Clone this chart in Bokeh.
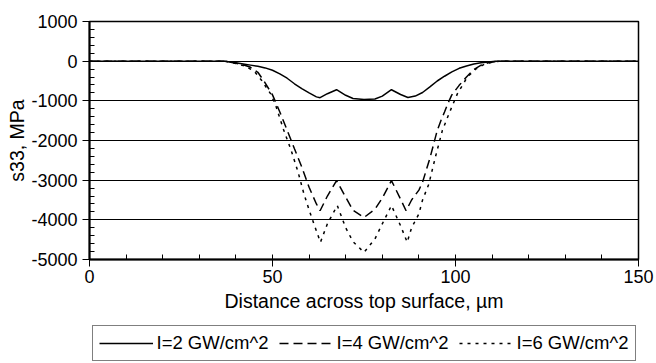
from bokeh.plotting import figure
from bokeh.layouts import column
from bokeh.models import Range1d, FixedTicker, Legend, LegendItem
from bokeh.embed import file_html
from bokeh.resources import INLINE

# I = 2 GW/cm^2
x_i2 = [0, 35, 37, 40, 42, 44, 46, 48, 50, 52, 54, 56, 58, 60, 62, 63, 65, 67.5, 70, 72, 75,
        78, 80, 82.5, 85, 87, 89, 91, 93, 95, 97, 99, 101, 103, 105, 107, 109, 111, 113, 150]
y_i2 = [0, 0, 0, -40, -70, -100, -130, -170, -230, -320, -430, -570, -690, -800, -900, -920,
        -820, -720, -860, -940, -965, -955, -880, -720, -840, -915, -880, -790, -650, -500,
        -380, -270, -180, -120, -70, -40, -20, -5, 0, 0]

# I = 4 GW/cm^2
x_i4 = [0, 37, 38, 40, 42, 44, 46, 47.6, 50, 52, 54, 56, 58, 60, 62, 63, 65, 67.5, 70, 72, 75,
        78, 80, 82.5, 85, 86.5, 88, 90, 91, 92, 93, 94, 95, 96, 97, 98, 99, 101, 103, 105,
        107, 109, 111, 112, 150]
y_i4 = [0, 0, -20, -50, -90, -155, -280, -490, -850, -1280, -1740, -2210, -2670, -3180, -3600,
        -3770, -3400, -3010, -3430, -3760, -3940, -3730, -3450, -3010, -3480, -3770, -3500,
        -3250, -3050, -2750, -2450, -2100, -1750, -1500, -1280, -1050, -850, -610, -400, -210,
        -100, -40, -8, 0, 0]

# I = 6 GW/cm^2
x_i6 = [0, 37, 38, 40, 42, 44.9, 47, 49.5, 51, 53, 55, 57, 58.6, 60, 61.3, 63.1, 65, 67.7, 70,
        72, 75, 78, 80, 82.5, 85, 86.8, 88, 90, 91, 92.7, 94.5, 96.4, 98.2, 100.5, 103.2, 105.5,
        108, 110.5, 112, 150]
y_i6 = [0, 0, -20, -60, -110, -240, -480, -825, -1150, -1720, -2220, -2800, -3350, -3750, -4100,
        -4565, -4100, -3640, -4200, -4550, -4820, -4480, -4100, -3640, -4150, -4565, -4200,
        -3850, -3500, -3100, -2420, -1750, -1330, -825, -405, -200, -70, -15, 0, 0]

x_ticks = [0, 50, 100, 150]
y_ticks = [-5000, -4000, -3000, -2000, -1000, 0, 1000]
labels = ["I=2 GW/cm^2", "I=4 GW/cm^2", "I=6 GW/cm^2"]

FONT = "Liberation Sans"
DASH_I4 = "9 5"
DASH_I6 = "3 5"

p = figure(width=656, height=323, output_backend="svg", toolbar_location=None,
           x_range=Range1d(0, 150), y_range=Range1d(-5000, 1000))
p.min_border_left = 89
p.min_border_right = 18
p.min_border_top = 21
p.min_border_bottom = 64
p.background_fill_color = "white"
p.border_fill_color = "white"
p.outline_line_color = "black"
p.outline_line_width = 1.5

p.xgrid.visible = False
p.ygrid.grid_line_color = "black"
p.ygrid.grid_line_width = 1
p.ygrid.ticker = FixedTicker(ticks=y_ticks)

p.xaxis.ticker = FixedTicker(ticks=x_ticks, minor_ticks=list(range(0, 151, 10)))
p.yaxis.ticker = FixedTicker(ticks=y_ticks, minor_ticks=list(range(-5000, 1001, 200)))
p.yaxis.major_label_overrides = {t: str(t) for t in y_ticks}
p.xaxis.major_label_overrides = {t: str(t) for t in x_ticks}

for ax in (p.xaxis[0], p.yaxis[0]):
    ax.axis_line_color = "black"
    ax.axis_line_width = 2
    ax.major_tick_in = 0
    ax.major_tick_out = 7
    ax.minor_tick_in = 5
    ax.minor_tick_out = 0
    ax.major_tick_line_color = "black"
    ax.minor_tick_line_color = "black"
    ax.major_label_text_font = FONT
    ax.major_label_text_font_size = "18px"
    ax.major_label_text_color = "black"
    ax.axis_label_text_font = FONT
    ax.axis_label_text_font_style = "normal"
    ax.axis_label_text_color = "black"

p.xaxis.axis_label = "Distance across top surface, µm"
p.yaxis.axis_label = "s33, MPa"
p.xaxis.axis_label_text_font_size = "19.5px"
p.yaxis.axis_label_text_font_size = "19.5px"
p.xaxis.major_label_standoff = 3
p.xaxis.axis_label_standoff = 4
p.yaxis.major_label_standoff = 5
p.yaxis.axis_label_standoff = 0

p.line(x_i2, y_i2, line_color="black", line_width=1.5)
p.line(x_i4, y_i4, line_color="black", line_width=1.5, line_dash=DASH_I4)
p.line(x_i6, y_i6, line_color="black", line_width=1.5, line_dash=DASH_I6)

# legend strip below the chart; its proxy lines use the same data but lie
# outside this strip's y range, so only their legend glyphs are shown
leg = figure(width=656, height=40, output_backend="svg", toolbar_location=None,
             x_range=Range1d(0, 150), y_range=Range1d(2000, 3000),
             x_axis_type=None, y_axis_type=None)
leg.min_border = 0
leg.min_border_left = 89
leg.min_border_right = 18
leg.outline_line_color = None
leg.grid.visible = False
leg.background_fill_color = "white"
leg.border_fill_color = "white"
k1 = leg.line(x_i2, y_i2, line_color="black", line_width=1.5)
k2 = leg.line(x_i4, y_i4, line_color="black", line_width=1.5, line_dash=DASH_I4)
k3 = leg.line(x_i6, y_i6, line_color="black", line_width=1.5, line_dash=DASH_I6)

legend = Legend(items=[LegendItem(label=labels[0], renderers=[k1]),
                       LegendItem(label=labels[1], renderers=[k2]),
                       LegendItem(label=labels[2], renderers=[k3])],
                orientation="horizontal", location="center")
legend.label_text_font = FONT
legend.label_text_font_size = "18.5px"
legend.label_text_color = "black"
legend.border_line_color = "black"
legend.border_line_width = 1
legend.glyph_width = 54
legend.glyph_height = 20
legend.label_standoff = 4
legend.spacing = 10
legend.padding = 6
legend.margin = 0
legend.background_fill_alpha = 1
leg.add_layout(legend, "center")

layout = column(p, leg, spacing=0)
open("out.html", "w").write(file_html(layout, INLINE))
